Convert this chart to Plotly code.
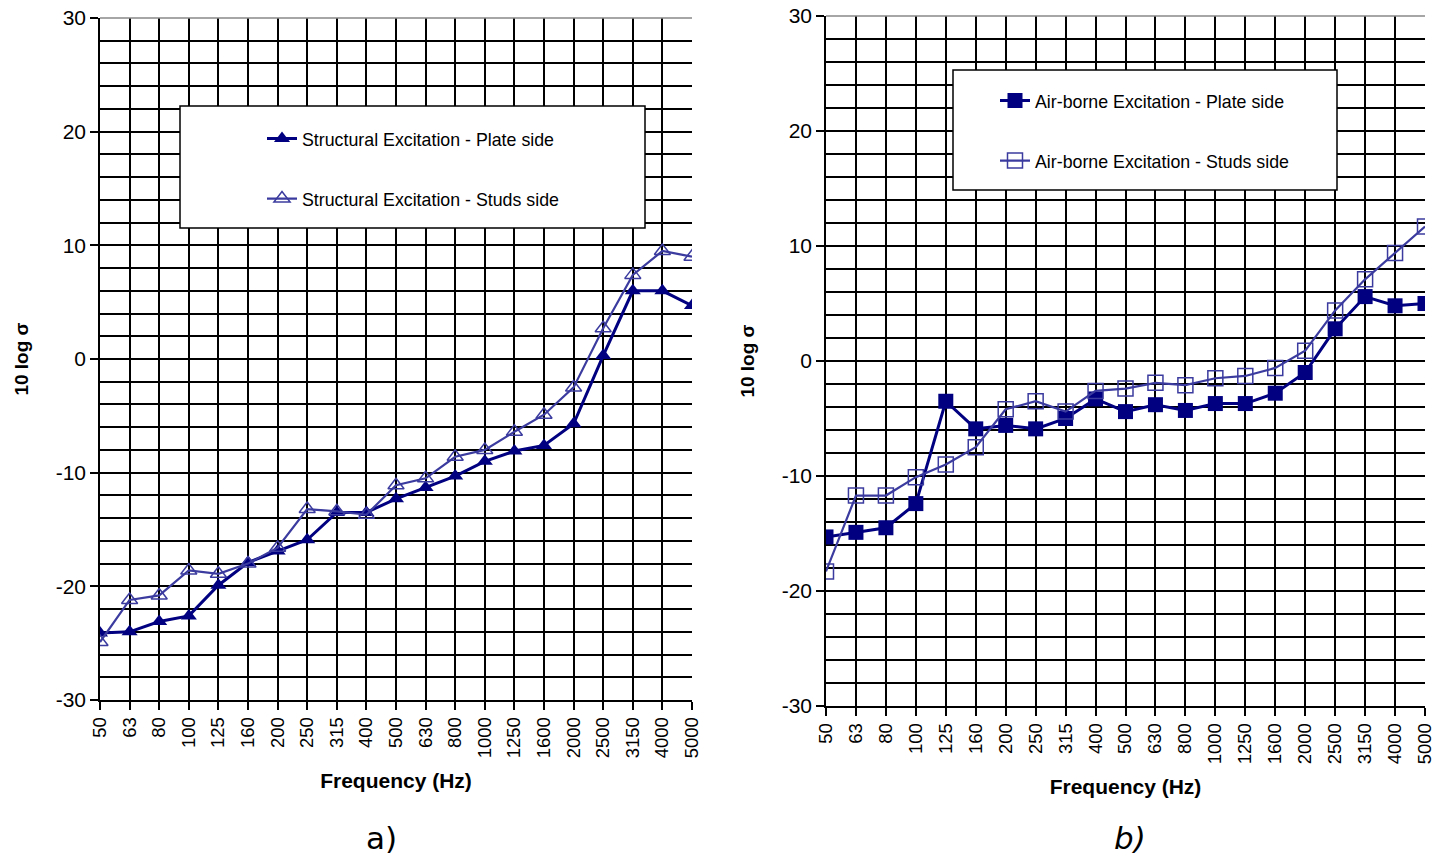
import plotly.graph_objects as go

freqs = ["50", "63", "80", "100", "125", "160", "200", "250", "315", "400", "500",
         "630", "800", "1000", "1250", "1600", "2000", "2500", "3150", "4000", "5000"]

struct_plate = [-24.1, -24.0, -23.1, -22.6, -19.9, -17.9, -16.9, -15.9, -13.5, -13.5, -12.3,
                -11.3, -10.3, -9.0, -8.1, -7.6, -5.7, 0.3, 6.0, 6.0, 4.7]
struct_studs = [-24.9, -21.2, -20.8, -18.6, -18.9, -18.0, -16.6, -13.2, -13.4, -13.7, -11.1,
                -10.5, -8.6, -8.0, -6.4, -4.9, -2.5, 2.7, 7.4, 9.5, 9.0]
air_plate = [-15.3, -14.9, -14.5, -12.4, -3.5, -5.9, -5.6, -5.9, -5.0, -3.3, -4.4,
             -3.8, -4.3, -3.7, -3.7, -2.8, -1.0, 2.8, 5.6, 4.8, 5.0]
air_studs = [-18.3, -11.7, -11.7, -10.1, -9.0, -7.5, -4.2, -3.5, -4.4, -2.6, -2.4,
             -1.9, -2.1, -1.5, -1.3, -0.6, 0.9, 4.4, 7.1, 9.4, 11.7]

y_tickvals = [-30, -20, -10, 0, 10, 20, 30]
y_ticktext = ["-30", "-20", "-10", "0", "10", "20", "30"]

names = ["Structural Excitation - Plate side", "Structural Excitation - Studs side",
         "Air-borne Excitation - Plate side", "Air-borne Excitation - Studs side"]

W, H = 1435, 862
NAVY = "#000080"
BLUE = "#3b3b9f"
FONT = "Liberation Sans, Arial, sans-serif"

def px(x):
    return x / W

def py(y):
    return 1 - y / H

fig = go.Figure()

fig.add_trace(go.Scatter(x=freqs, y=struct_plate, name=names[0], mode="lines+markers",
                         line=dict(color=NAVY, width=3),
                         marker=dict(symbol="triangle-up", size=14, color=NAVY),
                         xaxis="x", yaxis="y", legend="legend", showlegend=True))
fig.add_trace(go.Scatter(x=freqs, y=struct_studs, name=names[1], mode="lines+markers",
                         line=dict(color=BLUE, width=2.2),
                         marker=dict(symbol="triangle-up-open", size=14, color=BLUE,
                                     line=dict(width=1.5, color=BLUE)),
                         xaxis="x", yaxis="y", legend="legend2", showlegend=True))
fig.add_trace(go.Scatter(x=freqs, y=air_plate, name=names[2], mode="lines+markers",
                         line=dict(color=NAVY, width=3),
                         marker=dict(symbol="square", size=15, color=NAVY),
                         xaxis="x2", yaxis="y2", legend="legend3", showlegend=True))
fig.add_trace(go.Scatter(x=freqs, y=air_studs, name=names[3], mode="lines+markers",
                         line=dict(color=BLUE, width=2.2),
                         marker=dict(symbol="square-open", size=15, color=BLUE,
                                     line=dict(width=1.5, color=BLUE)),
                         xaxis="x2", yaxis="y2", legend="legend4", showlegend=True))

def xax(domain, anchor):
    return dict(domain=domain, anchor=anchor, type="category", range=[0, 20],
                automargin=False, ticklabeloverflow="allow",
                showgrid=True, gridcolor="black", gridwidth=1.6,
                showline=True, linecolor="black", linewidth=1.6,
                ticks="outside", ticklen=8, tickcolor="black", tickwidth=1.6,
                tickangle=-90, tickfont=dict(family=FONT, size=18.5, color="black"),
                title=dict(text="<b>Frequency (Hz)</b>",
                           font=dict(family=FONT, size=21, color="black"), standoff=16),
                zeroline=False, fixedrange=True)

def yax(domain, anchor):
    return dict(domain=domain, anchor=anchor, range=[-30, 30],
                tickmode="array", tickvals=y_tickvals, ticktext=y_ticktext,
                automargin=False, ticklabeloverflow="allow",
                showgrid=True, gridcolor="black", gridwidth=1.6,
                minor=dict(dtick=2, tick0=0, showgrid=True, gridcolor="black", gridwidth=1.6),
                showline=True, linecolor="black", linewidth=1.6,
                ticks="outside", ticklen=8, tickcolor="black", tickwidth=1.6,
                tickfont=dict(family=FONT, size=21, color="black"),
                title=dict(text="<b>10 log σ</b>",
                           font=dict(family=FONT, size=19, color="black"), standoff=22),
                zeroline=False, fixedrange=True)

leg_common = dict(bgcolor="rgba(0,0,0,0)", borderwidth=0, xanchor="left", yanchor="middle",
                  font=dict(family=FONT, size=17.8, color="black"))

edge = dict(color="#888888", width=1.6)

fig.update_layout(
    width=W, height=H,
    margin=dict(l=0, r=0, t=0, b=0, autoexpand=False),
    showlegend=True,
    paper_bgcolor="white", plot_bgcolor="white",
    xaxis=xax([px(100), px(692)], "y"),
    yaxis=yax([py(700), py(18)], "x"),
    xaxis2=xax([px(826), px(1425)], "y2"),
    yaxis2=yax([py(706), py(16)], "x2"),
    legend=dict(x=px(262), y=py(139), **leg_common),
    legend2=dict(x=px(262), y=py(199), **leg_common),
    legend3=dict(x=px(995), y=py(101), **leg_common),
    legend4=dict(x=px(995), y=py(161), **leg_common),
    shapes=[
        dict(type="line", xref="x domain", yref="y domain", x0=0, x1=1, y0=1, y1=1,
             layer="above", line=edge),
        dict(type="line", xref="x2 domain", yref="y2 domain", x0=0, x1=1, y0=1, y1=1,
             layer="above", line=edge),
        dict(type="rect", xref="paper", yref="paper", layer="above",
             x0=px(180), x1=px(645), y0=py(228), y1=py(106),
             fillcolor="white", line=dict(color="black", width=1.5)),
        dict(type="rect", xref="paper", yref="paper", layer="above",
             x0=px(953), x1=px(1337), y0=py(190), y1=py(70),
             fillcolor="white", line=dict(color="black", width=1.5)),
    ],
    annotations=[
        dict(text="a)", xref="paper", yref="paper", x=px(381), y=py(838),
             showarrow=False, xanchor="center", yanchor="middle",
             font=dict(family="DejaVu Sans, sans-serif", size=31, color="black")),
        dict(text="<i>b)</i>", xref="paper", yref="paper", x=px(1130), y=py(838),
             showarrow=False, xanchor="center", yanchor="middle",
             font=dict(family="DejaVu Sans, sans-serif", size=31, color="black")),
    ],
)

fig.write_html("out.html", config={"displayModeBar": False},
               post_script="document.body.style.margin='0';")
